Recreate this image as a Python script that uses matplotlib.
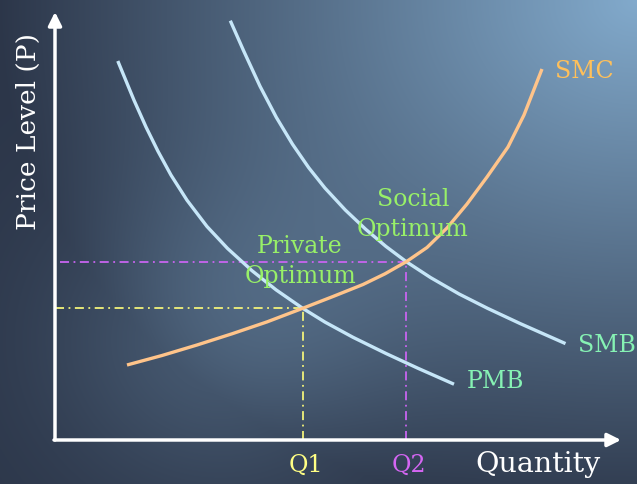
import numpy as np
import matplotlib
matplotlib.use("Agg")
import matplotlib.pyplot as plt

# curve points, quantity vs price (arbitrary units)
pmb_q = [6.28, 7.9, 9.1, 10.3, 11.6, 13.2, 15.2, 17.25, 19.7, 22.1,
         24.77, 27.0, 29.8, 33.1, 36.3, 39.9]
pmb_p = [37.9, 33.98, 31.3, 28.87, 26.49, 23.98, 21.35, 19.16, 16.93, 15.02,
         13.17, 11.79, 10.27, 8.65, 7.17, 5.58]

smb_q = [17.53, 18.88, 20.5, 22.13, 23.75, 25.38, 27.0, 29.03, 31.06, 33.09,
         35.13, 37.56, 40.41, 43.25, 46.5, 51.05]
smb_p = [41.93, 38.88, 35.38, 32.27, 29.58, 27.22, 25.19, 23.0, 21.08, 19.36,
         17.83, 16.24, 14.6, 13.17, 11.65, 9.64]

smc_q = [7.2, 10.7, 14.2, 17.7, 21.2, 24.77, 27.8, 30.8, 33.0, 35.13,
         37.2, 39.2, 41.2, 43.2, 45.3, 46.9, 48.7]
smc_p = [7.5, 8.45, 9.5, 10.62, 11.81, 13.17, 14.35, 15.55, 16.62, 17.83,
         19.25, 21.2, 23.6, 26.3, 29.3, 32.5, 37.1]

private_opt = (24.77, 13.17)
social_opt = (35.13, 17.83)

curve_labels = ["SMC", "SMB", "PMB"]
curve_label_pos = [(50.0, 36.8), (52.3, 9.5), (41.2, 5.8)]

font = "DejaVu Serif"

fig = plt.figure(figsize=(6.37, 4.84), dpi=100)
ax = fig.add_axes([0, 0, 1, 1])
ax.set_xlim(-5.5, 58.2)
ax.set_ylim(-4.4, 44.0)
ax.axis("off")

# background: light top right corner plus a soft glow in the lower middle
yy, xx = np.mgrid[0:484, 0:637].astype(float)
v = np.clip(1 - np.sqrt((637 - xx) ** 2 + (1.22 * yy) ** 2) / 640, 0, 1)
v += 0.3 * np.exp(-((xx - 220) ** 2 / (2 * 120 ** 2) + (yy - 340) ** 2 / (2 * 110 ** 2)))
v = np.clip(v, 0, 1)[..., None]
dark = np.array([0x2C, 0x36, 0x49]) / 255
light = np.array([0x82, 0xAA, 0xCC]) / 255
ax.imshow(dark + (light - dark) * v, extent=[-5.5, 58.2, -4.4, 44.0],
          aspect="auto", zorder=0)

# axes with arrows
arrow = dict(arrowstyle="-|>", color="white", lw=2.5, mutation_scale=20,
             shrinkA=0, shrinkB=0)
ax.annotate("", xy=(0, 42.8), xytext=(0, 0), arrowprops=arrow, zorder=5)
ax.annotate("", xy=(56.6, 0), xytext=(-0.1, 0), arrowprops=arrow, zorder=5)

# reference lines
dashdot = (0, (5, 2.5, 1, 2.5))
ax.plot([0, private_opt[0]], [private_opt[1]] * 2, color="#F2F27A",
        lw=1.3, ls=dashdot, zorder=2)
ax.plot([private_opt[0]] * 2, [0, private_opt[1]], color="#F2F27A",
        lw=1.3, ls=dashdot, zorder=2)
ax.plot([0.5, social_opt[0]], [social_opt[1]] * 2, color="#C864F0",
        lw=1.3, ls=dashdot, zorder=2)
ax.plot([social_opt[0]] * 2, [0, social_opt[1]], color="#C864F0",
        lw=1.3, ls=dashdot, zorder=2)

# curves
for q, p, c in [(pmb_q, pmb_p, "#C6E6F8"), (smb_q, smb_p, "#C6E6F8"),
                (smc_q, smc_p, "#FFC48A")]:
    ax.plot(q, p, color=c, lw=2.4, solid_capstyle="butt",
            solid_joinstyle="round", zorder=3)

label_colors = ["#FFC05A", "#86F2B4", "#86F2B4"]
for lab, (x, y), c in zip(curve_labels, curve_label_pos, label_colors):
    ax.text(x, y, lab, color=c, fontsize=17, family=font,
            ha="left", va="center", zorder=4)

ax.text(24.5, 17.85, "Private\nOptimum", color="#98F068", fontsize=17,
        family=font, ha="center", va="center", linespacing=1.4, zorder=4)
ax.text(35.8, 22.55, "Social\nOptimum", color="#98F068", fontsize=17,
        family=font, ha="center", va="center", linespacing=1.4, zorder=4)

ax.text(private_opt[0] + 0.3, -2.5, "Q1", color="#FFFF84", fontsize=17,
        family=font, ha="center", va="center")
ax.text(social_opt[0] + 0.3, -2.5, "Q2", color="#D466F2", fontsize=17,
        family=font, ha="center", va="center")
ax.text(48.3, -2.5, "Quantity", color="white", fontsize=20.5,
        family=font, ha="center", va="center")
ax.text(-2.7, 30.9, "Price Level (P)", color="white", fontsize=19,
        family=font, ha="center", va="center", rotation=90)

fig.savefig("out.png", dpi=100)
